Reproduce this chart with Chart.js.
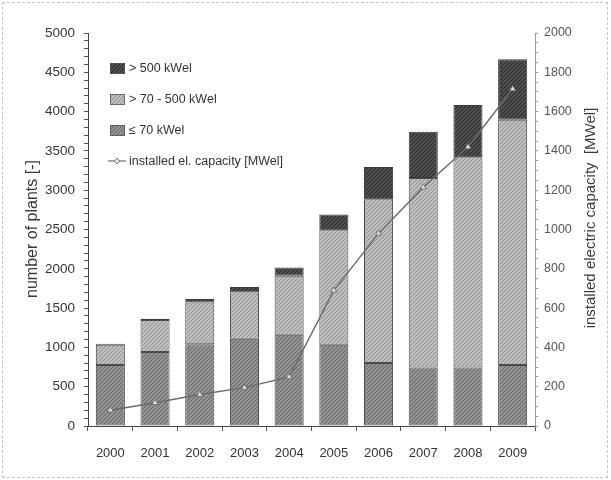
<!DOCTYPE html>
<html><head><meta charset="utf-8">
<script src="https://cdn.jsdelivr.net/npm/chart.js@4/dist/chart.umd.min.js"></script>
<style>
html,body{margin:0;padding:0;background:#fff}
#wrap{position:relative;width:611px;height:480px}
canvas{display:block}
#frame{position:absolute;left:2px;top:2px;width:606px;height:476px;border:1px dashed #c4c4c4;pointer-events:none;box-sizing:border-box}
</style></head><body>
<div id="wrap"><canvas id="c" width="611" height="480"></canvas><div id="frame"></div></div>
<script>
// ---- data ----
const years = ['2000','2001','2002','2003','2004','2005','2006','2007','2008','2009'];
const plantsUpTo70 = [775, 940, 1040, 1110, 1160, 1035, 800, 745, 745, 775];
const plants70to500 = [260, 410, 530, 590, 750, 1455, 2085, 2410, 2675, 3120];
const plantsOver500 = [10, 15, 45, 70, 105, 200, 410, 590, 665, 770];
const capacityMW = [80, 118, 160, 195, 250, 690, 980, 1215, 1420, 1715];
const labelUpTo70 = '\u2264 70 kWel';
const label70to500 = '> 70 - 500 kWel';
const labelOver500 = '> 500 kWel';
const labelCapacity = 'installed el. capacity [MWel]';
const leftTitle = 'number of plants [-]';
const rightTitle = 'installed electric capacity  [MWel]';

// ---- textures ----
function hatch(base, line, step) {
  const t = document.createElement('canvas');
  t.width = step; t.height = step;
  const g = t.getContext('2d');
  g.fillStyle = base; g.fillRect(0, 0, step, step);
  g.strokeStyle = line; g.lineWidth = 1;
  g.beginPath();
  g.moveTo(0, step); g.lineTo(step, 0);
  g.moveTo(-1, 1); g.lineTo(1, -1);
  g.moveTo(step - 1, step + 1); g.lineTo(step + 1, step - 1);
  g.stroke();
  return document.getElementById('c').getContext('2d').createPattern(t, 'repeat');
}
const patSmall = hatch('#929292', '#676767', 4);
const patMid = hatch('#bdbdbd', '#929292', 4);
const patLarge = hatch('#4e4e4e', '#2a2a2a', 4);

const FONT = "'Liberation Sans', Arial, sans-serif";

const legendPlugin = {
  id: 'customLegend',
  afterDraw(chart) {
    const ctx = chart.ctx;
    ctx.save();
    ctx.font = '12.5px ' + FONT;
    ctx.fillStyle = '#333';
    ctx.textBaseline = 'middle';
    const items = [
      {label: labelOver500, fill: patLarge},
      {label: label70to500, fill: patMid},
      {label: labelUpTo70, fill: patSmall}
    ];
    const x0 = 110, y0 = 68, dy = 31;
    items.forEach((it, i) => {
      const y = y0 + i * dy;
      ctx.fillStyle = it.fill;
      ctx.fillRect(x0, y - 5, 15, 11);
      ctx.strokeStyle = '#555'; ctx.lineWidth = 0.8;
      ctx.strokeRect(x0 + 0.5, y - 4.5, 14, 10);
      ctx.fillStyle = '#333';
      ctx.fillText(it.label, x0 + 19, y + 1);
    });
    const y = y0 + 3 * dy;
    ctx.strokeStyle = '#777'; ctx.lineWidth = 1.3;
    ctx.beginPath(); ctx.moveTo(x0 - 2, y); ctx.lineTo(x0 + 16, y); ctx.stroke();
    ctx.fillStyle = '#ddd'; ctx.strokeStyle = '#666'; ctx.lineWidth = 0.8;
    ctx.beginPath(); ctx.moveTo(x0 + 7, y - 3); ctx.lineTo(x0 + 10, y); ctx.lineTo(x0 + 7, y + 3); ctx.lineTo(x0 + 4, y); ctx.closePath(); ctx.fill(); ctx.stroke();
    ctx.fillStyle = '#333';
    ctx.fillText(labelCapacity, x0 + 19, y + 1);

    // axis titles
    ctx.font = '16px ' + FONT;
    ctx.fillStyle = '#3a3a3a';
    ctx.textAlign = 'center';
    ctx.save(); ctx.translate(33, 229); ctx.rotate(-Math.PI / 2); ctx.fillText(leftTitle, 0, 0); ctx.restore();
    ctx.font = '15px ' + FONT;
    ctx.save(); ctx.translate(591, 218); ctx.rotate(-Math.PI / 2); ctx.fillText(rightTitle, 0, 0); ctx.restore();
    ctx.restore();
  }
};

new Chart(document.getElementById('c'), {
  data: {
    labels: years,
    datasets: [
      {type: 'line', label: labelCapacity, data: capacityMW, yAxisID: 'y1', order: 0,
       borderColor: '#6a6a6a', borderWidth: 1.4, pointStyle: 'triangle', pointRadius: 3.5,
       pointBackgroundColor: '#e0e0e0', pointBorderColor: '#666', pointBorderWidth: 0.8, tension: 0},
      {type: 'bar', label: labelUpTo70, data: plantsUpTo70, yAxisID: 'y', stack: 's', order: 1,
       backgroundColor: patSmall, borderColor: '#4a4a4a', borderWidth: 1, borderSkipped: false},
      {type: 'bar', label: label70to500, data: plants70to500, yAxisID: 'y', stack: 's', order: 1,
       backgroundColor: patMid, borderColor: '#4a4a4a', borderWidth: 1, borderSkipped: false},
      {type: 'bar', label: labelOver500, data: plantsOver500, yAxisID: 'y', stack: 's', order: 1,
       backgroundColor: patLarge, borderColor: '#3a3a3a', borderWidth: 1, borderSkipped: false}
    ]
  },
  options: {
    responsive: false, animation: false, devicePixelRatio: 1,
    layout: {padding: {top: 33, left: 0, right: 0, bottom: 0}},
    datasets: {bar: {barPercentage: 0.65, categoryPercentage: 1}},
    plugins: {legend: {display: false}, tooltip: {enabled: false}},
    scales: {
      x: {
        type: 'category', offset: true, stacked: true,
        grid: {drawOnChartArea: false, tickLength: 5, color: '#555', offset: true},
        border: {color: '#444', width: 1},
        ticks: {font: {size: 13, family: FONT}, color: '#333', padding: 15, maxRotation: 0},
        afterFit: s => { s.height = 54; }
      },
      y: {
        position: 'left', stacked: true, min: 0, max: 5000,
        grid: {drawOnChartArea: false, tickLength: 4, color: '#555'},
        border: {color: '#444', width: 1},
        ticks: {stepSize: 100, autoSkip: false, font: {size: 13.5, family: FONT}, color: '#333', padding: 9,
                callback: v => (v % 500 === 0 ? v : '')},
        afterFit: s => { s.width = 88; }
      },
      y1: {
        position: 'right', min: 0, max: 2000,
        grid: {drawOnChartArea: false, tickLength: 3, color: '#999'},
        border: {color: '#999', width: 1, dash: [3, 3]},
        ticks: {stepSize: 50, autoSkip: false, font: {size: 12.5, family: FONT}, color: '#555', padding: 6,
                callback: v => (v % 200 === 0 ? v : '')},
        afterFit: s => { s.width = 76; }
      }
    }
  },
  plugins: [legendPlugin]
});
</script>
</body></html>
